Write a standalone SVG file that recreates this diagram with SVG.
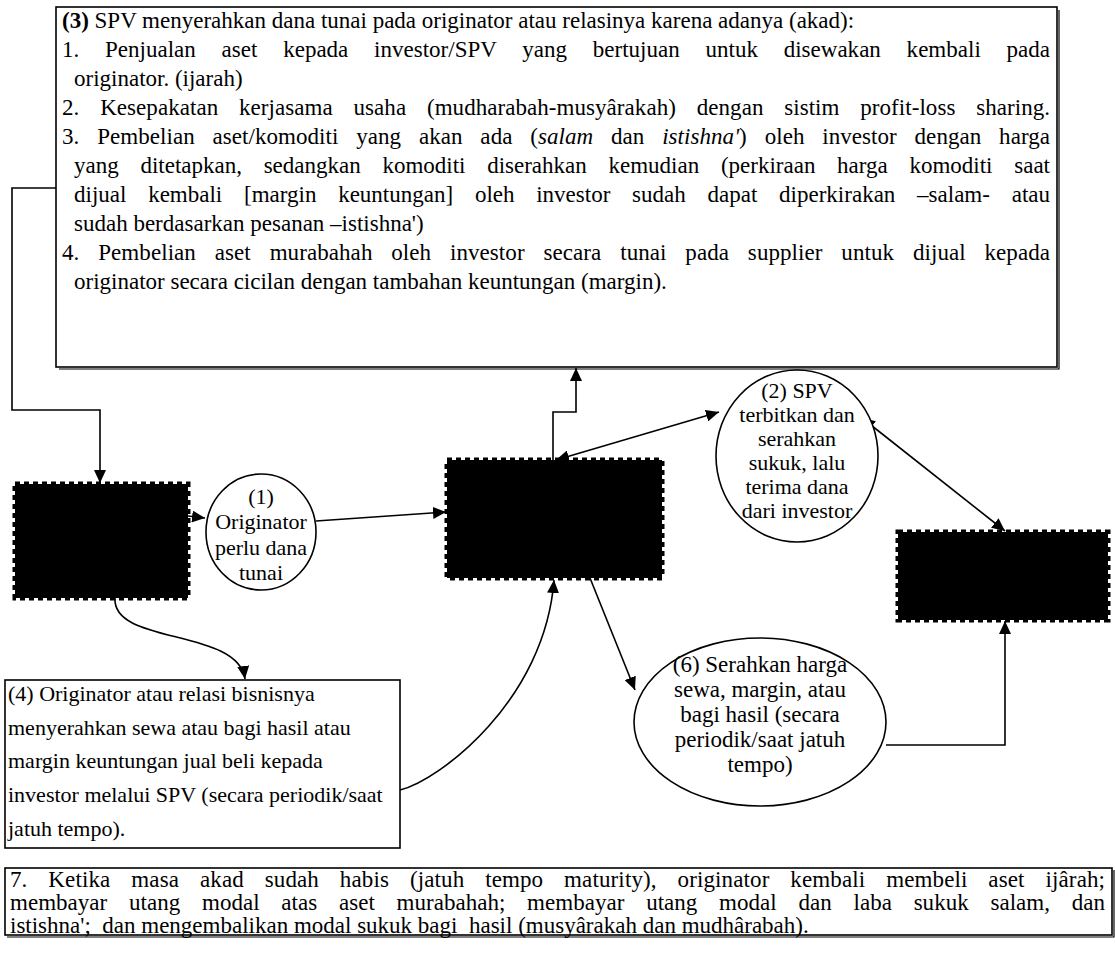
<svg xmlns="http://www.w3.org/2000/svg" width="1115" height="965" viewBox="0 0 1115 965">
<defs>
<marker id="ah" markerWidth="14" markerHeight="12" refX="13" refY="6" orient="auto-start-reverse" markerUnits="userSpaceOnUse">
<path d="M0,0 L13,6 L0,12 z" fill="#000"/>
</marker>
<style>
.t{font-family:"Liberation Serif","Times New Roman",serif;font-size:23px;fill:#000}
.m{font-size:22px}
.c{text-anchor:middle}
.box{fill:#fff;stroke:#000;stroke-width:1.6}
.sh{fill:none;stroke:#000;stroke-width:1.2}
.blk{fill:#000;stroke:#000;stroke-width:5;stroke-dasharray:5 4}
.ell{fill:#fff;stroke:#000;stroke-width:1.6}
.ln{fill:none;stroke:#000;stroke-width:1.6}
.arr{marker-end:url(#ah)}
.dbl{marker-start:url(#ah);marker-end:url(#ah)}
</style>
</defs>
<rect width="1115" height="965" fill="#fff"/>

<g id="connectors">
<path class="ln arr" d="M56,188 H12 V410 H100 V483"/>
<path class="ln arr" d="M188,516 L205,518"/>
<path class="ln arr" d="M316,521 L446,512"/>
<path class="ln arr" d="M553,460 V412 H576 V368"/>
<path class="ln dbl" d="M556,460 L719,412"/>
<path class="ln dbl" d="M862,418 L1005,531"/>
<path class="ln arr" d="M886,745 H1005 V621"/>
<path class="ln arr" d="M590,578 L635,690"/>
<path class="ln arr" d="M400,790 C440,780 545,700 554,580"/>
<path class="ln arr" d="M115,598 C112,645 238,628 245,679"/>
</g>

<g id="node-3">
<path class="sh" d="M1059,10 V369 H59"/>
<rect class="box" x="56" y="7" width="1001" height="360"/>
<text class="t" x="62" y="28"><tspan font-weight="bold">(3)</tspan>  SPV menyerahkan dana tunai pada originator atau relasinya karena adanya (akad):</text>
<text class="t" x="62" y="57" word-spacing="20" textLength="988" lengthAdjust="spacing">1. Penjualan aset kepada investor/SPV yang bertujuan untuk disewakan kembali pada</text>
<text class="t" x="74" y="86">originator. (ijarah)</text>
<text class="t" x="62" y="115" word-spacing="15" textLength="988" lengthAdjust="spacing">2. Kesepakatan kerjasama usaha (mudharabah-musyârakah) dengan sistim profit-loss sharing.</text>
<text class="t" x="62" y="144" word-spacing="12" textLength="988" lengthAdjust="spacing">3. Pembelian aset/komoditi yang akan ada (<tspan font-style="italic">salam</tspan> dan <tspan font-style="italic">istishna'</tspan>) oleh investor dengan harga</text>
<text class="t" x="74" y="173" word-spacing="16" textLength="976" lengthAdjust="spacing">yang ditetapkan, sedangkan komoditi diserahkan kemudian (perkiraan harga komoditi saat</text>
<text class="t" x="74" y="202" word-spacing="16" textLength="976" lengthAdjust="spacing">dijual kembali [margin keuntungan] oleh investor sudah dapat diperkirakan –salam- atau</text>
<text class="t" x="74" y="231">sudah berdasarkan pesanan –istishna')</text>
<text class="t" x="62" y="260" word-spacing="13" textLength="988" lengthAdjust="spacing">4. Pembelian aset murabahah oleh investor secara tunai pada supplier untuk dijual kepada</text>
<text class="t" x="74" y="289">originator secara cicilan dengan tambahan keuntungan (margin).</text>
</g>

<g id="box-a"><rect class="blk" x="15" y="484" width="173" height="114"/></g>

<g id="node-1">
<ellipse class="ell" cx="261" cy="532" rx="55" ry="58"/>
<text class="t m c" x="261" y="504">(1)</text>
<text class="t m c" x="261" y="529">Originator</text>
<text class="t m c" x="261" y="555">perlu dana</text>
<text class="t m c" x="261" y="580">tunai</text>
</g>

<g id="box-b"><rect class="blk" x="447" y="460" width="215" height="118"/></g>

<g id="node-2">
<ellipse class="ell" cx="797" cy="456" rx="81" ry="86"/>
<text class="t m c" x="797" y="398">(2) SPV</text>
<text class="t m c" x="797" y="422">terbitkan dan</text>
<text class="t m c" x="797" y="446">serahkan</text>
<text class="t m c" x="797" y="470">sukuk, lalu</text>
<text class="t m c" x="797" y="494">terima dana</text>
<text class="t m c" x="797" y="518">dari investor</text>
</g>

<g id="box-c"><rect class="blk" x="898" y="532" width="210" height="88"/></g>

<g id="node-4">
<rect class="box" x="5" y="680" width="395" height="168"/>
<text class="t m" x="8" y="701">(4) Originator atau relasi bisnisnya</text>
<text class="t m" x="8" y="735">menyerahkan sewa atau bagi hasil atau</text>
<text class="t m" x="8" y="768">margin keuntungan jual beli kepada</text>
<text class="t m" x="8" y="802">investor melalui SPV (secara periodik/saat</text>
<text class="t m" x="8" y="836">jatuh tempo).</text>
</g>

<g id="node-6">
<ellipse class="ell" cx="760" cy="722" rx="126" ry="84"/>
<text class="t c" x="760" y="672">(6) Serahkan harga</text>
<text class="t c" x="760" y="697">sewa, margin, atau</text>
<text class="t c" x="760" y="722">bagi hasil (secara</text>
<text class="t c" x="760" y="747">periodik/saat jatuh</text>
<text class="t c" x="760" y="772">tempo)</text>
</g>

<g id="node-7">
<path class="sh" d="M1114,870 V937 H7"/>
<rect class="box" x="5" y="868" width="1107" height="67"/>
<text class="t" x="10" y="887" word-spacing="15" textLength="1095" lengthAdjust="spacing">7. Ketika masa akad sudah habis (jatuh tempo maturity), originator kembali membeli aset ijârah;</text>
<text class="t" x="10" y="910" word-spacing="16" textLength="1095" lengthAdjust="spacing">membayar utang modal atas aset murabahah; membayar utang modal dan laba sukuk salam, dan</text>
<text class="t" x="10" y="933" style="white-space:pre">istishna';  dan mengembalikan modal sukuk bagi  hasil (musyârakah dan mudhârabah).</text>
</g>
</svg>
